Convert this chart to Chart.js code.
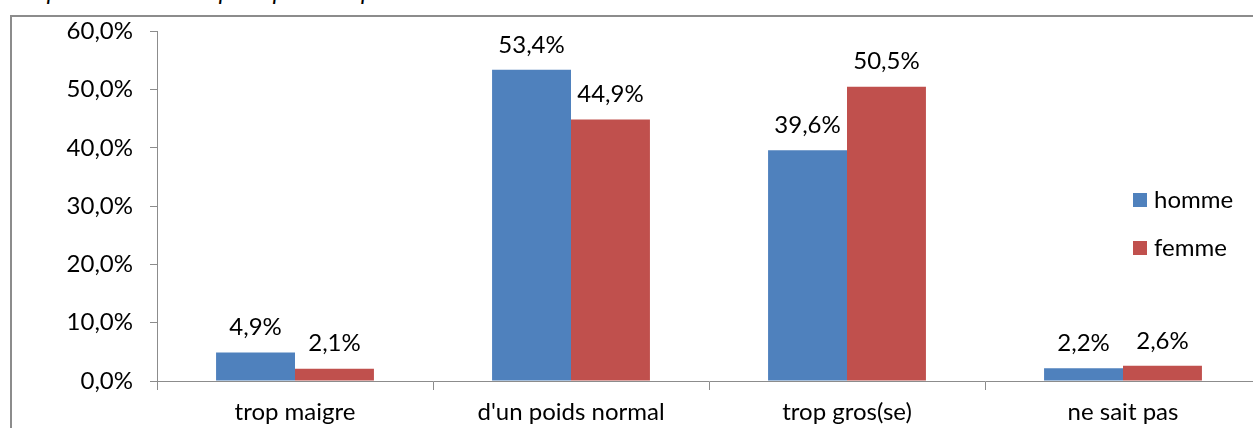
<!DOCTYPE html>
<html>
<head>
<meta charset="utf-8">
<script src="https://cdn.jsdelivr.net/npm/chart.js@4.4.1/dist/chart.umd.min.js"></script>
<style>
  html, body { margin: 0; padding: 0; background: #fff; overflow: hidden; }
  #wrap { position: relative; width: 1253px; height: 428px; overflow: hidden; }
  #frame { position: absolute; left: 10px; top: 15px; width: 1400px; height: 600px; border: 2px solid #8c8c8c; box-sizing: border-box; }
  #title { position: absolute; left: 22px; top: -24px; font: italic 24px Lato, "Open Sans", sans-serif; color: #000; white-space: nowrap; }
  #box { position: absolute; left: 0; top: 0; width: 1261px; height: 428px; }
</style>
</head>
<body>
<div id="wrap">
  <div id="title">Répartition selon la perception du poids et le sexe</div>
  <div id="frame"></div>
  <div id="box"><canvas id="chart" width="1261" height="428"></canvas></div>
</div>
<script>
// Categories and series
const categories = ['trop maigre', "d'un poids normal", 'trop gros(se)', 'ne sait pas'];
const homme = [4.9, 53.4, 39.6, 2.2];
const femme = [2.1, 44.9, 50.5, 2.6];
const seriesNames = ['homme', 'femme'];
const colors = ['#4F81BD', '#C0504D'];

const FONT = 'Lato, "Open Sans", sans-serif';
const fmt = v => v.toFixed(1).replace('.', ',') + '%';

// Value labels above each bar
const barLabels = {
  id: 'barLabels',
  afterDatasetsDraw(chart) {
    const ctx = chart.ctx;
    ctx.save();
    ctx.font = '24px ' + FONT;
    ctx.fillStyle = '#000';
    ctx.textAlign = 'center';
    ctx.textBaseline = 'middle';
    chart.data.datasets.forEach((ds, i) => {
      chart.getDatasetMeta(i).data.forEach((bar, j) => {
        ctx.fillText(fmt(ds.data[j]), bar.x, bar.y - 25);
      });
    });
    ctx.restore();
  }
};

// Legend drawn inside the plot, on the right
const sideLegend = {
  id: 'sideLegend',
  afterDraw(chart) {
    const ctx = chart.ctx;
    ctx.save();
    ctx.font = '24px ' + FONT;
    ctx.textBaseline = 'middle';
    seriesNames.forEach((name, i) => {
      const y = 200 + i * 48;
      ctx.fillStyle = colors[i];
      ctx.fillRect(1133, y - 7, 14, 14);
      ctx.fillStyle = '#000';
      ctx.fillText(name, 1154, y);
    });
    ctx.restore();
  }
};

new Chart(document.getElementById('chart'), {
  type: 'bar',
  data: {
    labels: categories,
    datasets: [
      { label: seriesNames[0], data: homme, backgroundColor: colors[0] },
      { label: seriesNames[1], data: femme, backgroundColor: colors[1] }
    ]
  },
  options: {
    responsive: false,
    animation: false,
    layout: { padding: { top: 31, left: 0, right: 0, bottom: 0 } },
    datasets: { bar: { categoryPercentage: 0.572, barPercentage: 1 } },
    plugins: { legend: { display: false }, tooltip: { enabled: false } },
    scales: {
      x: {
        grid: { display: true, drawOnChartArea: false, tickLength: 9, color: '#8c8c8c' },
        border: { color: '#8c8c8c', width: 1 },
        ticks: { color: '#000', font: { family: FONT, size: 24 }, padding: 8, maxRotation: 0 },
        afterFit(scale) { scale.height = 47; }
      },
      y: {
        min: 0,
        max: 60,
        ticks: { stepSize: 10, color: '#000', font: { family: FONT, size: 24 }, padding: 17, callback: v => fmt(v) },
        grid: { display: true, drawOnChartArea: false, tickLength: 7, color: '#8c8c8c' },
        border: { color: '#8c8c8c', width: 1 },
        afterFit(scale) { scale.width = 157; }
      }
    }
  },
  plugins: [barLabels, sideLegend]
});
</script>
</body>
</html>
